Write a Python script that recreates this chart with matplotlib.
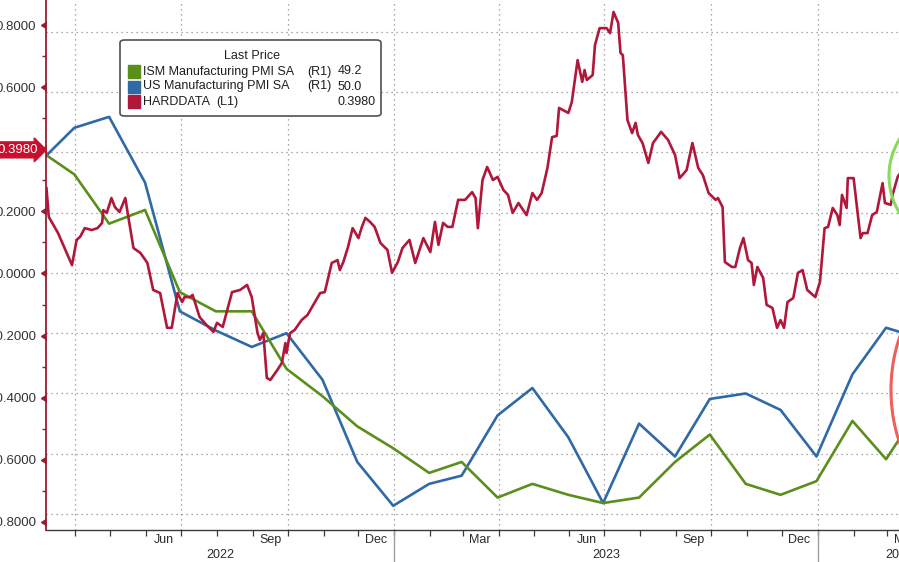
import numpy as np
import pandas as pd
import matplotlib
matplotlib.use("Agg")
import matplotlib.pyplot as plt
import matplotlib.dates as mdates
import matplotlib.transforms as mtransforms
from matplotlib.patches import FancyBboxPatch, Ellipse, Rectangle
from matplotlib.markers import CARETLEFTBASE
from matplotlib.ticker import FuncFormatter
from datetime import datetime, timedelta

# ---------------- data ----------------
# monthly PMI readings (plotted at month end), Feb-2022 .. Apr-2024
pmi_dates = pd.date_range("2022-03-01", periods=27, freq="MS") - pd.Timedelta(days=1)
ism_pmi = [58.9, 58.0, 56.2, 56.7, 53.7, 53.0, 53.0, 50.9, 49.9, 48.8, 48.0,
           47.1, 47.5, 46.2, 46.7, 46.3, 46.0, 46.2, 47.5, 48.5, 46.7, 46.3, 46.8,
           49.0, 47.6, 49.6, 49.2]
us_pmi = [58.4, 59.7, 60.1, 57.7, 53.0, 52.3, 51.7, 52.2, 50.5, 47.5, 45.9,
          46.7, 47.0, 49.2, 50.2, 48.4, 46.0, 48.9, 47.7, 49.8, 50.0, 49.4, 47.7,
          50.7, 52.4, 52.0, 50.0]

# HARDDATA index: observation day (days since 2022-04-01) and value
hard_base = datetime(2022, 4, 1)
hard_day = [-25, -23, -15, -3, 1, 4, 8, 14, 19, 23, 24, 27, 31, 34, 38, 43, 45, 50, 56, 62,
            67, 73, 79, 83, 88, 92, 94, 99, 101, 107, 113, 119, 122, 127, 135, 142, 148, 152,
            157, 159, 162, 165, 168, 174, 178, 181, 182, 185, 189, 195, 200, 204, 211, 215,
            221, 226, 228, 231, 235, 239, 244, 247, 250, 254, 258, 263, 269, 273, 278, 282,
            288, 293, 300, 306, 310, 313, 317, 321, 325, 330, 336, 342, 345, 347, 351, 355,
            360, 364, 369, 373, 377, 382, 389, 394, 398, 402, 407, 411, 415, 417, 425, 428,
            433, 437, 439, 441, 446, 448, 452, 458, 461, 464, 468, 470, 472, 476, 480, 483,
            485, 489, 494, 498, 505, 511, 517, 521, 527, 532, 537, 541, 546, 552, 554, 558,
            560, 566, 569, 573, 576, 580, 583, 585, 588, 593, 596, 601, 605, 608, 611, 614,
            619, 623, 627, 631, 638, 642, 646, 649, 653, 657, 659, 661, 665, 666, 671, 677,
            679, 683, 687, 691, 696, 698, 703, 705, 709, 715, 730, 745, 761]
hard_vals = [0.275, 0.182, 0.130, 0.027, 0.108, 0.118, 0.146, 0.140, 0.146, 0.163, 0.204,
             0.195, 0.243, 0.214, 0.198, 0.243, 0.195, 0.082, 0.066, 0.034,
             -0.053, -0.063, -0.175, -0.175, -0.063, -0.092, -0.076, -0.076, -0.069, -0.140,
             -0.166, -0.188, -0.159, -0.172, -0.060, -0.053, -0.037, -0.076,
             -0.192, -0.214, -0.192, -0.336, -0.343, -0.311, -0.288, -0.224, -0.256, -0.192,
             -0.182, -0.150, -0.134, -0.108, -0.063, -0.060,
             0.034, 0.043, 0.011, 0.037, 0.085, 0.146, 0.114, 0.150, 0.179, 0.166, 0.150,
             0.098, 0.076, 0.002, 0.037, 0.082,
             0.108, 0.034, 0.114, 0.069, 0.166, 0.092, 0.163, 0.150, 0.150, 0.237, 0.237,
             0.262, 0.243, 0.146, 0.301, 0.343,
             0.301, 0.311, 0.269, 0.253, 0.195, 0.227, 0.188, 0.259, 0.237, 0.259, 0.340,
             0.439, 0.443, 0.533, 0.517, 0.552,
             0.687, 0.617, 0.655, 0.623, 0.639, 0.736, 0.790, 0.790, 0.774, 0.842, 0.807,
             0.710, 0.703, 0.494, 0.452, 0.485,
             0.446, 0.420, 0.356, 0.420, 0.456, 0.430, 0.382, 0.307, 0.333, 0.420, 0.340,
             0.317, 0.259, 0.237, 0.243, 0.214,
             0.037, 0.021, 0.021, 0.082, 0.114, 0.043, 0.034, -0.037, 0.021, -0.014, -0.101,
             -0.111, -0.175, -0.150, -0.175, -0.092,
             -0.079, 0.002, 0.011, -0.053, -0.076, -0.027, 0.146, 0.150, 0.211, 0.188, 0.156,
             0.253, 0.211, 0.307, 0.307, 0.114,
             0.130, 0.130, 0.188, 0.198, 0.291, 0.227, 0.221, 0.259, 0.311, 0.345, 0.330,
             0.360, 0.398]
hard_dates = [hard_base + timedelta(days=d) for d in hard_day]

series_names = ["ISM Manufacturing PMI SA", "US Manufacturing PMI SA", "HARDDATA"]
series_axes = ["(R1)", "(R1)", "(L1)"]

left_ticks = np.round(np.arange(-4, 5) * 0.2, 1)
# quarter-month labels shown on the time axis (first: Jun 2022, last: Mar 2024)
month_label_months = pd.date_range("2022-06-01", "2024-03-01", freq="3MS")

# ---------------- style ----------------
GREEN = "#5b8f1c"
BLUE = "#2f69a6"
RED = "#b0173a"
TAGRED = "#c8102e"
SPINE_RED = "#9b1b30"
GRID = "#8c8c8c"
TXT = "#2b2b2b"
plt.rcParams["font.family"] = ["Liberation Sans", "DejaVu Sans"]

W, H = 899, 562
fig = plt.figure(figsize=(W / 100, H / 100), dpi=100)
fig.patch.set_facecolor("white")

ax = fig.add_axes([46 / W, (H - 530) / H, (980 - 46) / W, 530 / H])
axL = ax.twinx()

# x range
ax.set_xlim(datetime(2022, 3, 6, 14), datetime(2024, 5, 20))

# ---- right (PMI) axis: only gridlines visible ----
ax.set_ylim(45.016, 64.366)
ax.set_yticks(45.6 + 2.2 * np.arange(9))
ax.yaxis.tick_right()
ax.tick_params(axis="y", which="both", right=False, labelright=False, left=False, labelleft=False)
ax.yaxis.grid(True, color=GRID, linestyle=(0, (1, 3)), linewidth=0.9)
for s in ["top", "left", "right"]:
    ax.spines[s].set_visible(False)
ax.spines["bottom"].set_color("#3a3a3a")
ax.spines["bottom"].set_linewidth(1.0)

# vertical quarterly gridlines
for q in pd.date_range("2022-04-01", "2024-04-01", freq="QS"):
    ax.axvline(q, color=GRID, linestyle=(0, (1, 3)), linewidth=0.9, zorder=1)

# x ticks: monthly marks, quarter month labels centred in month
ax.xaxis.set_major_locator(mdates.MonthLocator())
ax.xaxis.set_major_formatter(FuncFormatter(lambda v, p: ""))
ax.set_xticks(mdates.date2num(list(month_label_months + pd.Timedelta(days=15))), minor=True)
ax.xaxis.set_minor_formatter(mdates.DateFormatter("%b"))
ax.tick_params(axis="x", which="major", length=4, width=0.9, color="#3a3a3a", direction="out")
ax.tick_params(axis="x", which="minor", length=0, pad=3, labelsize=9, labelcolor=TXT)

# year separators and labels
xl0, xl1 = [mdates.num2date(v).replace(tzinfo=None) for v in ax.get_xlim()]
bounds = [xl0, datetime(2023, 1, 1), datetime(2024, 1, 1), xl1]
trans = mtransforms.blended_transform_factory(ax.transData, ax.transAxes)
for yb in bounds[1:3]:
    ax.axvline(yb, ymin=-32 / 530, ymax=0, color="#a0a0a0", linewidth=1.0, clip_on=False)
for a, b in zip(bounds[:-1], bounds[1:]):
    mid = a + (b - a) / 2
    ax.text(mid, -25 / 530, str(mid.year),
            transform=trans, ha="center", va="center", fontsize=9, color=TXT)

# PMI lines
ax.plot(pmi_dates, us_pmi, color=BLUE, linewidth=1.9, zorder=3, solid_joinstyle="round")
ax.plot(pmi_dates, ism_pmi, color=GREEN, linewidth=1.9, zorder=3, solid_joinstyle="round")

# ---- left axis (HARDDATA) ----
axL.set_ylim(-0.826, 0.8806)
axL.yaxis.tick_left()
axL.set_yticks(left_ticks)
axL.set_yticks(np.arange(-7, 8, 2) * 0.1, minor=True)
axL.yaxis.set_major_formatter(FuncFormatter(lambda v, p: f"{v:.4f}"))
axL.tick_params(axis="y", which="major", length=4.5, width=1, color=SPINE_RED, pad=2.5,
                labelsize=9.5, labelcolor="#333333", right=False, labelright=False)
axL.tick_params(axis="y", which="minor", length=3, width=1, color=SPINE_RED,
                right=False, labelright=False)
for t in axL.yaxis.get_major_ticks():
    t.tick1line.set_marker(CARETLEFTBASE)
    t.tick1line.set_markersize(4.5)
    t.tick1line.set_markerfacecolor(SPINE_RED)
    t.tick1line.set_markeredgecolor(SPINE_RED)
for s in ["top", "right", "bottom"]:
    axL.spines[s].set_visible(False)
axL.spines["left"].set_color(SPINE_RED)
axL.spines["left"].set_linewidth(1.3)

axL.plot(hard_dates, hard_vals, color=RED, linewidth=1.9, zorder=4, solid_joinstyle="round")

# last value tag
last = hard_vals[-1]
axL.annotate(f"{last:.4f}", xy=(0, last), xycoords=axL.get_yaxis_transform(),
             xytext=(-6, 0), textcoords="offset points", ha="right", va="center",
             color="white", fontsize=9.5,
             bbox=dict(boxstyle="rarrow,pad=0.15", fc=TAGRED, ec=TAGRED),
             annotation_clip=False, zorder=10)

# ---- legend box (Bloomberg style) ----
def fx(x):
    return x / W

def fy(y):
    return 1 - y / H

box = FancyBboxPatch((fx(120), fy(116)), fx(261), 76 / H,
                     boxstyle="round,pad=0,rounding_size=0.005",
                     transform=fig.transFigure, fc="white", ec="#505050", lw=1.2, zorder=5)
fig.patches.append(box)
fig.text(fx(252), fy(56), "Last Price", ha="center", va="center", fontsize=9, color="#222222", zorder=6)
colors = [GREEN, BLUE, RED]
values = [f"{ism_pmi[-1]:.1f}", f"{us_pmi[-1]:.1f}", f"{hard_vals[-1]:.4f}"]
tag_x = [307, 307, 216]
for i, (nm, tg, col, val) in enumerate(zip(series_names, series_axes, colors, values)):
    yc = 71.5 + 15 * i
    sq = Rectangle((fx(128), fy(yc + 6)), fx(12), 12 / H, transform=fig.transFigure,
                   fc=col, ec=col, zorder=6)
    fig.patches.append(sq)
    fig.text(fx(143), fy(yc), nm, ha="left", va="center", fontsize=9, color="#1e1e1e", zorder=6)
    fig.text(fx(tag_x[i]), fy(yc), tg, ha="left", va="center", fontsize=9, color="#1e1e1e", zorder=6)
    fig.text(fx(338), fy(yc), val, ha="left", va="center", fontsize=9, color="#1e1e1e", zorder=6)

# ---- hand-drawn highlight circles at right edge ----
g = Ellipse((fx(959), fy(176)), 2 * 70 / W, 2 * 70 / H, transform=fig.transFigure,
            fill=False, ec="#86dc5a", lw=2.2, zorder=7)
r = Ellipse((fx(951), fy(390)), 2 * 60 / W, 2 * 102 / H, transform=fig.transFigure,
            fill=False, ec="#f0605a", lw=2.2, zorder=7)
fig.patches.append(g)
fig.patches.append(r)

fig.savefig("out.png", dpi=100, facecolor="white")
